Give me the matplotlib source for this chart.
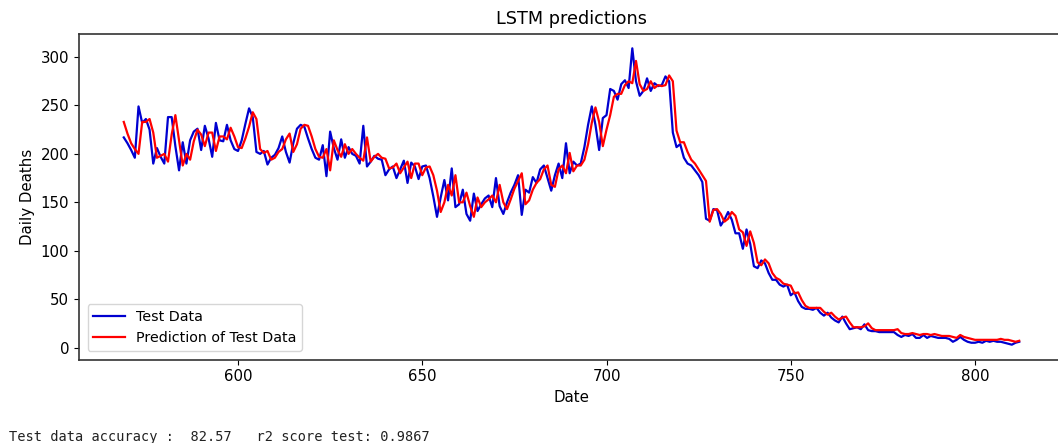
import numpy as np
import matplotlib
matplotlib.use("Agg")
import matplotlib.pyplot as plt

# Day index of the test window
days = np.arange(569, 813)

# Observed daily deaths in the test window
test_data = [
    217, 211, 204, 196, 249, 232, 236, 225, 190, 206,
    197, 190, 238, 238, 208, 183, 212, 190, 214, 223,
    226, 204, 229, 216, 197, 232, 214, 213, 230, 214,
    205, 203, 214, 231, 247, 238, 202, 200, 203, 189,
    196, 199, 206, 218, 202, 191, 211, 226, 230, 228,
    216, 205, 196, 194, 209, 177, 223, 206, 194, 215,
    196, 207, 200, 198, 190, 229, 187, 192, 198, 195,
    194, 178, 184, 187, 175, 184, 193, 170, 191, 187,
    174, 187, 188, 175, 156, 135, 155, 173, 152, 185,
    145, 148, 163, 138, 131, 159, 141, 148, 154, 157,
    145, 175, 146, 138, 150, 160, 168, 178, 137, 163,
    160, 176, 170, 184, 188, 175, 162, 178, 190, 175,
    211, 180, 192, 188, 190, 207, 230, 249, 230, 204,
    237, 240, 267, 265, 256, 272, 276, 268, 309, 275,
    260, 265, 278, 265, 273, 270, 271, 280, 275, 222,
    207, 210, 196, 190, 188, 183, 178, 171, 133, 131,
    143, 142, 126, 132, 140, 132, 118, 118, 102, 122,
    107, 84, 82, 90, 87, 77, 70, 70, 65, 63,
    65, 54, 57, 48, 42, 40, 40, 39, 41, 36,
    33, 36, 31, 28, 26, 32, 25, 19, 20, 21,
    19, 24, 18, 17, 17, 16, 16, 16, 16, 16,
    13, 11, 13, 12, 14, 10, 10, 13, 10, 12,
    11, 10, 10, 10, 9, 6, 8, 11, 8, 6,
    5, 5, 6, 5, 7, 6, 7, 6, 6, 5,
    4, 3, 5, 6,
]

# LSTM output for the same days
predicted = [
    233, 221, 211, 205, 200, 233, 233, 236, 222, 196,
    198, 200, 192, 220, 240, 214, 188, 200, 194, 213,
    225, 220, 208, 222, 222, 203, 218, 218, 215, 227,
    218, 207, 206, 216, 228, 243, 236, 205, 201, 203,
    194, 196, 202, 205, 215, 221, 202, 210, 226, 230,
    229, 218, 205, 197, 196, 205, 183, 214, 204, 197,
    210, 200, 205, 200, 196, 193, 217, 192, 197, 200,
    196, 195, 185, 186, 190, 180, 186, 192, 175, 190,
    190, 178, 186, 187, 178, 162, 140, 150, 168, 157,
    178, 150, 150, 160, 146, 135, 155, 145, 150, 153,
    157, 150, 168, 150, 143, 153, 164, 172, 180, 148,
    152, 163, 170, 174, 184, 188, 168, 166, 184, 188,
    180, 201, 182, 188, 188, 194, 210, 232, 248, 233,
    208, 225, 240, 259, 262, 262, 271, 275, 273, 296,
    272, 265, 267, 275, 268, 271, 270, 271, 281, 275,
    224, 212, 212, 202, 194, 190, 184, 178, 172, 130,
    142, 143, 138, 130, 133, 140, 136, 122, 119, 105,
    120, 108, 88, 85, 91, 87, 77, 72, 70, 66,
    65, 64, 56, 57, 49, 43, 41, 41, 41, 41,
    37, 34, 36, 32, 29, 31, 32, 26, 21, 21,
    21, 22, 25, 20, 18, 18, 18, 18, 18, 18,
    19, 15, 14, 14, 15, 14, 13, 14, 14, 13,
    14, 13, 12, 12, 12, 11, 10, 13, 11, 10,
    9, 8, 8, 8, 8, 8, 8, 8, 9, 8,
    8, 7, 6, 7,
]

accuracy = 82.57
r2_test = 0.9867

W, H = 1058, 443
fig = plt.figure(figsize=(W / 100, H / 100), dpi=100)
ax = fig.add_axes([79 / W, 1 - 359.5 / H, (1064 - 79) / W, (359.5 - 33.5) / H])

ax.plot(days, test_data, color="#0000d0", lw=1.6, label="Test Data")
ax.plot(days, predicted, color="red", lw=1.6, label="Prediction of Test Data")

ax.set_title("LSTM predictions", fontsize=12.7, pad=7)
ax.set_xlabel("Date", fontsize=10.8)
ax.set_ylabel("Daily Deaths", fontsize=10.8)
ax.tick_params(labelsize=10.8)
ax.set_yticks([0, 50, 100, 150, 200, 250, 300])
ax.set_xticks([600, 650, 700, 750, 800])
for s in ax.spines.values():
    s.set_linewidth(1.2)
    s.set_color("#333333")

ax.legend(loc="lower left", fontsize=10.3, handlelength=2.2, borderaxespad=0.6)

fig.text(9 / W, 6 / H,
         f"Test data accuracy :  {accuracy}   r2 score test: {r2_test}",
         family="DejaVu Sans Mono", fontsize=9.8, va="center", ha="left",
         color="#222222")

fig.savefig("out.png", dpi=100)
